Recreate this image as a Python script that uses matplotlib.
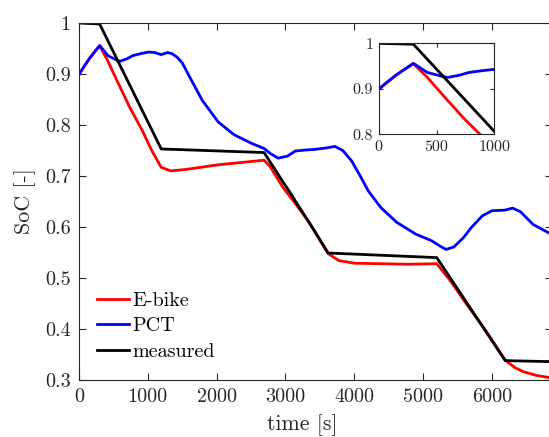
import numpy as np
import matplotlib
matplotlib.use('Agg')
import matplotlib.pyplot as plt

plt.rcParams['font.family'] = 'serif'
plt.rcParams['font.serif'] = ['cmr10']
plt.rcParams['mathtext.fontset'] = 'cm'
plt.rcParams['axes.formatter.use_mathtext'] = True

# SoC traces (time in s, SoC in -)
t_meas = [0, 300, 1195, 2690, 2962, 3110, 3125, 3416, 3620, 5200, 6195, 6875]
soc_meas = [1.0, 0.998, 0.753, 0.746, 0.689, 0.659, 0.655, 0.594, 0.549, 0.540,
            0.338, 0.336]

t_ebike = [0, 75, 150, 225, 300, 414, 552, 736, 920, 1057, 1195, 1333, 1563,
           2023, 2400, 2690, 2781, 2962, 3144, 3325, 3507, 3620, 3779, 4006,
           4777, 5200, 5390, 5626, 5911, 6195, 6337, 6465, 6650, 6875]
soc_ebike = [0.899, 0.915, 0.930, 0.943, 0.955, 0.927, 0.887, 0.835, 0.789, 0.750,
             0.717, 0.710, 0.713, 0.722, 0.727, 0.731, 0.718, 0.678, 0.646, 0.613,
             0.573, 0.548, 0.534, 0.529, 0.527, 0.528, 0.496, 0.450, 0.397, 0.339,
             0.324, 0.316, 0.309, 0.304]

t_pct = [0, 75, 150, 225, 300, 420, 552, 598, 700, 782, 900, 1011, 1100, 1195,
         1287, 1350, 1425, 1500, 1609, 1793, 2023, 2253, 2508, 2690, 2781, 2894,
         3030, 3144, 3300, 3416, 3597, 3720, 3834, 3960, 4100, 4203, 4388, 4619,
         4895, 5127, 5241, 5334, 5449, 5587, 5702, 5863, 6003, 6188, 6302, 6417,
         6600, 6875]
soc_pct = [0.899, 0.915, 0.930, 0.943, 0.956, 0.936, 0.927, 0.925, 0.930, 0.936,
           0.940, 0.943, 0.942, 0.938, 0.942, 0.940, 0.933, 0.922, 0.894, 0.848,
           0.806, 0.781, 0.764, 0.754, 0.744, 0.735, 0.739, 0.749, 0.751, 0.752,
           0.755, 0.758, 0.750, 0.730, 0.697, 0.671, 0.638, 0.609, 0.586, 0.573,
           0.563, 0.556, 0.561, 0.579, 0.599, 0.622, 0.632, 0.633, 0.637, 0.630,
           0.605, 0.585]

xticks = [0, 1000, 2000, 3000, 4000, 5000, 6000]
yticks = [0.3, 0.4, 0.5, 0.6, 0.7, 0.8, 0.9, 1.0]
yticklabels = ['0.3', '0.4', '0.5', '0.6', '0.7', '0.8', '0.9', '1']

axcol = (0.15, 0.15, 0.15)

fig = plt.figure(figsize=(5.49, 4.37), dpi=100)
ax = fig.add_axes([0.1439, 0.1304, 0.8616, 0.817])

ax.plot(t_ebike, soc_ebike, color='red', lw=2, label='E-bike')
ax.plot(t_pct, soc_pct, color='blue', lw=2, label='PCT')
ax.plot(t_meas, soc_meas, color='black', lw=2, label='measured')

ax.set_xlim(0, 6875)
ax.set_ylim(0.3, 1.0)
ax.set_xticks(xticks)
ax.set_xticklabels([str(v) for v in xticks])
ax.set_yticks(yticks)
ax.set_yticklabels(yticklabels)
ax.tick_params(direction='in', top=True, right=True, labelsize=14.5,
               colors=axcol, length=5, width=0.8, pad=6)
for s in ax.spines.values():
    s.set_color(axcol)
    s.set_linewidth(0.8)

ax.set_xlabel('time [s]', fontsize=15.8, color=axcol)
ax.xaxis.set_label_coords(0.4715, -0.095)
ax.set_ylabel('SoC [-]', fontsize=15.8, color=axcol)
ax.yaxis.set_label_coords(-0.09, 0.5)

leg = ax.legend(loc='lower left', bbox_to_anchor=(0.02, 0.03), frameon=False,
                fontsize=14.5, handlelength=1.6, handletextpad=0.2,
                labelspacing=0.38, borderaxespad=0)

# inset zoom on the first 1000 s
axi = fig.add_axes([0.6898, 0.6927, 0.2106, 0.2082])
axi.plot(t_ebike, soc_ebike, color='red', lw=2)
axi.plot(t_pct, soc_pct, color='blue', lw=2)
axi.plot(t_meas, soc_meas, color='black', lw=2)
axi.set_xlim(0, 1000)
axi.set_ylim(0.8, 1.0)
axi.set_xticks([0, 500, 1000])
axi.set_xticklabels(['0', '500', '1000'])
axi.set_yticks([0.8, 0.9, 1.0])
axi.set_yticklabels(['0.8', '0.9', '1'])
axi.tick_params(direction='in', top=True, right=True, labelsize=11.5,
                colors=axcol, length=3, width=0.8, pad=4)
for s in axi.spines.values():
    s.set_color(axcol)
    s.set_linewidth(0.8)

fig.savefig('out.png', dpi=100, facecolor='white')
